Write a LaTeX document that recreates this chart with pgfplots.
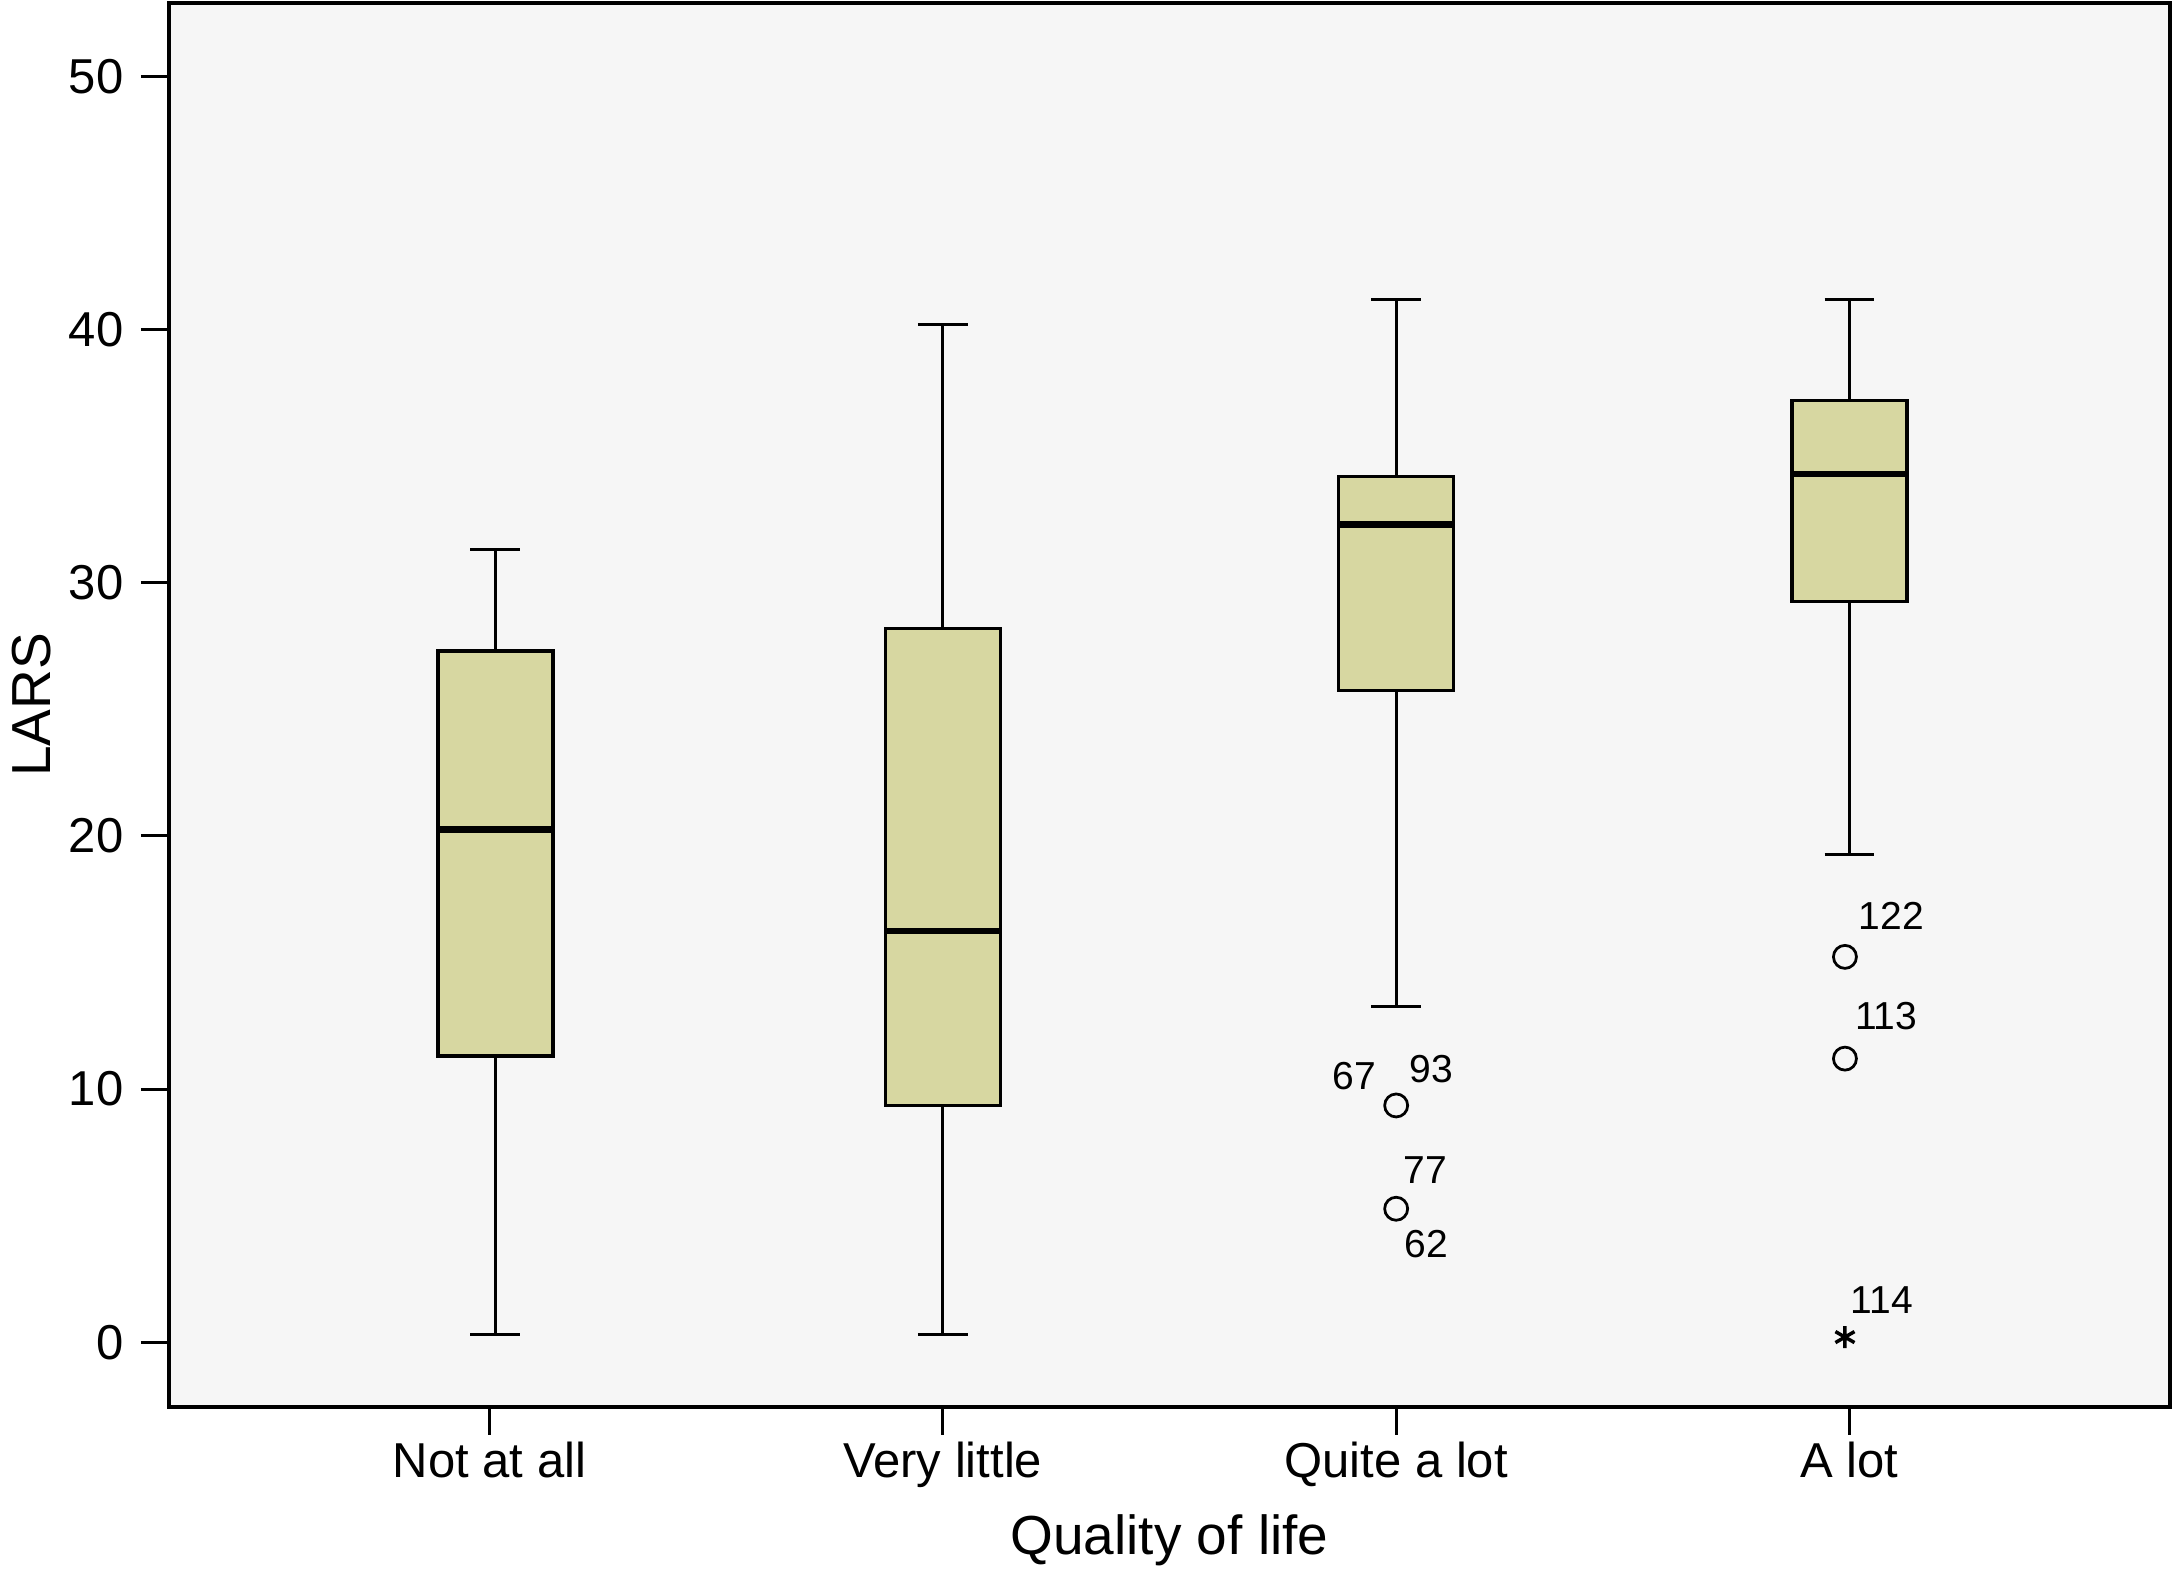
\documentclass[border=0pt]{standalone}
\usepackage{fontspec}
\setmainfont{Liberation Sans}
\usepackage{pgfplots}
\pgfplotsset{compat=1.18}
\usepgfplotslibrary{statistics}
\definecolor{bggray}{RGB}{246,246,246}
\definecolor{boxfill}{RGB}{215,215,161}
\begin{document}
\begin{tikzpicture}
\begin{axis}[
  scale only axis, width=400.2pt, height=280.8pt,
  xmin=-0.707, xmax=3.707, ymin=-2.56, ymax=52.9,
  axis background/.style={fill=bggray},
  axis line style={line width=0.8pt},
  xtick={0,1,2,3}, xticklabels={Not at all, Very little, Quite a lot, A lot},
  ytick={0,10,20,30,40,50},
  tick align=outside, xtick pos=bottom, ytick pos=left,
  major tick length=5.6pt,
  tick style={line width=0.6pt, black},
  tick label style={font=\fontsize{9.8}{11}\selectfont},
  xticklabel style={yshift=2.2pt},
  /pgf/number format/assume math mode=true,
  xlabel={Quality of life}, ylabel={LARS},
  label style={font=\fontsize{11}{13}\selectfont},
  xlabel style={at={([yshift=-29.6pt]rel axis cs:0.5,0)}, anchor=base},
  ylabel style={at={([xshift=-23.6pt]rel axis cs:0,0.5)}, anchor=base},
  boxplot/draw direction=y,
  boxplot/box extend=0.254, boxplot/whisker extend=0.11,
  boxplot/every box/.style={draw=black, fill=boxfill, line width=0.7pt},
  boxplot/every median/.style={line width=1.3pt},
  clip=false,
]
\addplot[black, line width=0.65pt, mark=none, boxplot prepared={draw position=0.013, lower whisker=0.3, lower quartile=11.3, median=20.25, upper quartile=27.3, upper whisker=31.3}] coordinates {};
\addplot[black, line width=0.65pt, mark=none, boxplot prepared={draw position=1, lower whisker=0.3, lower quartile=9.35, median=16.25, upper quartile=28.2, upper whisker=40.2}] coordinates {};
\addplot[black, line width=0.65pt, mark=none, boxplot prepared={draw position=2, lower whisker=13.25, lower quartile=25.75, median=32.3, upper quartile=34.2, upper whisker=41.2}] coordinates {};
\addplot[black, line width=0.65pt, mark=none, boxplot prepared={draw position=3, lower whisker=19.25, lower quartile=29.25, median=34.3, upper quartile=37.2, upper whisker=41.2}] coordinates {};
\addplot[only marks, mark=o, mark size=2.3pt, line width=0.55pt, black] coordinates {(2,9.35) (2,5.27) (2.99,15.22) (2.99,11.2)};
\addplot[only marks, mark=asterisk, mark size=2.2pt, line width=0.7pt, black] coordinates {(2.99,0.2)};
\begin{scope}[every node/.style={font=\fontsize{7.8}{9}\selectfont, anchor=base, inner sep=0pt}]
\node at (axis cs:1.907,9.97) {67};
\node at (axis cs:2.077,10.25) {93};
\node at (axis cs:2.064,6.26) {77};
\node at (axis cs:2.067,3.33) {62};
\node at (axis cs:3.092,16.3) {122};
\node at (axis cs:3.081,12.34) {113};
\node at (axis cs:3.071,1.12) {114};
\end{scope}
\coordinate (ll) at (rel axis cs:0,0);
\coordinate (ur) at (rel axis cs:1,1);
\end{axis}
\pgfresetboundingbox
\path ([shift={(-33.8pt,-33pt)}]ll) rectangle ([shift={(0.6pt,0.6pt)}]ur);
\end{tikzpicture}
\end{document}
